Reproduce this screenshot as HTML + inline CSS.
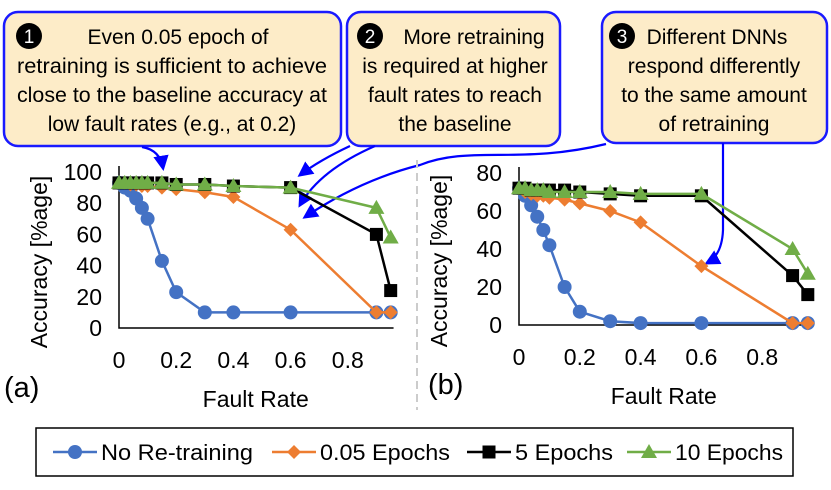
<!DOCTYPE html>
<html><head><meta charset="utf-8"><style>
body{margin:0;background:#fff;}
svg{display:block;font-family:"Liberation Sans",sans-serif;}
</style></head><body>
<svg id="c" width="831" height="490" viewBox="0 0 831 490" xmlns="http://www.w3.org/2000/svg">
<defs><marker id="ah" viewBox="0 0 10 10" refX="8" refY="5" markerWidth="7" markerHeight="7" orient="auto"><path d="M0,0L10,5L0,10z" fill="#0000ff"/></marker></defs>
<g id="callouts" font-size="21" fill="#000" text-anchor="middle">
<g>
<rect x="4" y="12" width="337" height="134" rx="14" fill="#fdecc8" stroke="#1a1aff" stroke-width="2.5"/>
<circle cx="29" cy="36" r="13" fill="#000"/><text x="29" y="43" fill="#fff" font-size="19">1</text>
<text x="178" y="44">Even 0.05 epoch of</text>
<text x="172" y="73" textLength="310" lengthAdjust="spacingAndGlyphs">retraining is sufficient to achieve</text>
<text x="172" y="102" textLength="310" lengthAdjust="spacingAndGlyphs">close to the baseline accuracy at</text>
<text x="172" y="131">low fault rates (e.g., at 0.2)</text></g>
<g>
<rect x="347" y="12" width="213" height="134" rx="14" fill="#fdecc8" stroke="#1a1aff" stroke-width="2.5"/>
<circle cx="370" cy="36" r="13" fill="#000"/><text x="370" y="43" fill="#fff" font-size="19">2</text>
<text x="474" y="44">More retraining</text>
<text x="455" y="73">is required at higher</text>
<text x="455" y="102">fault rates to reach</text>
<text x="455" y="131">the baseline</text></g>
<g>
<rect x="602" y="12" width="225" height="131" rx="14" fill="#fdecc8" stroke="#1a1aff" stroke-width="2.5"/>
<circle cx="622" cy="36" r="13" fill="#000"/><text x="622" y="43" fill="#fff" font-size="19">3</text>
<text x="717" y="44">Different DNNs</text>
<text x="714" y="73">respond differently</text>
<text x="714" y="102">to the same amount</text>
<text x="714" y="131">of retraining</text></g>
</g>
<g fill="none" stroke="#0000ff" stroke-width="2.2">
<path d="M142,147 Q160,150 163,168" marker-end="url(#ah)"/>
<path d="M350,146 Q320,160 300,175" marker-end="url(#ah)"/>
<path d="M375,146 Q320,170 300,205" marker-end="url(#ah)"/>
<path d="M606,144 C520,165 470,145 420,165 Q360,180 305,217" marker-end="url(#ah)"/>
<path d="M723,143 L723,230 Q722,255 707,263" marker-end="url(#ah)"/>
</g>
<line x1="417" y1="160" x2="417" y2="410" stroke="#ccc" stroke-width="2" stroke-dasharray="8,5"/>
<g id="plots"></g>
<g>
<rect x="36" y="428" width="757" height="48" fill="#fff" stroke="#000" stroke-width="1.5"/>
<g id="leg" font-size="22"></g>
</g>
</svg>
<script>
const xs=[0,0.02,0.04,0.06,0.08,0.1,0.15,0.2,0.3,0.4,0.6,0.9,0.95];
const seriesNames=["No Re-training","0.05 Epochs","5 Epochs","10 Epochs"];
const colors=["#4472c4","#ed7d31","#000000","#70ad47"];
const aBlue=[93,90,88,83,77,70,43,23,10,10,10,10,10];
const aOrange=[93,93,92,92,91,91,90,89,87,84,63,10,10];
const aBlack=[93,93,93,93,93,93,93,92,92,91,90,60,24];
const aGreen=[93,93,93,93,93,93,93,92,92,91,90,77,58];
const bBlue=[72,68,63,57,50,42,20,7,2,1,1,1,1];
const bOrange=[72,70,69,68,68,67,66,64,60,54,31,1,1];
const bBlack=[72,72,71,71,71,71,71,70,69,68,68,26,16];
const bGreen=[72,72,71,71,71,70,70,70,70,69,69,40,27];
const aYTicks=[0,20,40,60,80,100];
const bYTicks=[0,20,40,60,80];
const xTicks=[0,0.2,0.4,0.6,0.8];
const legendWidths=[152,130,98,108];
const NS="http://www.w3.org/2000/svg";
function mk(p,t,a){const e=document.createElementNS(NS,t);for(const k in a)e.setAttribute(k,a[k]);p.appendChild(e);return e;}
function marker(g,i,x,y){
 let e;
 if(i===0)e=mk(g,"circle",{cx:x,cy:y,r:7,fill:colors[0]});
 else if(i===1)e=mk(g,"path",{d:`M${x},${y-7}L${x+7},${y}L${x},${y+7}L${x-7},${y}z`,fill:colors[1]});
 else if(i===2)e=mk(g,"rect",{x:x-6.5,y:y-6.5,width:13,height:13,fill:"#000"});
 else e=mk(g,"path",{d:`M${x},${y-8}L${x+8},${y+6}L${x-8},${y+6}z`,fill:colors[3]});
 return e;
}
function panel(name,x0,xPer,y0,yPer,yMax,yTicks,series,label,labX){
 const root=document.getElementById("plots");
 const g=mk(root,"g",{});
 
 
 const X=v=>x0+v*xPer, Y=v=>y0-v*yPer;
 const ax=mk(g,"path",{d:`M${x0},${Y(yMax)-6}L${x0},${y0}L${X(0.96)},${y0}`,stroke:"#000","stroke-width":1.5,fill:"none"});
 
 
 yTicks.forEach(t=>{const e=mk(g,"text",{x:x0-17,y:Y(t)+8,"text-anchor":"end","font-size":23});e.textContent=t;
  
  });
 xTicks.forEach(t=>{const e=mk(g,"text",{x:X(t),y:y0+40,"text-anchor":"middle","font-size":23});e.textContent=t;
  
  });
 const yt=mk(g,"text",{transform:`translate(${x0-72},${(y0+Y(yMax))/2+12}) rotate(-90)`,"text-anchor":"middle","font-size":23});
 yt.textContent="Accuracy [%age]";
 
 
 const xt=mk(g,"text",{x:X(0.45)+8,y:y0+79,"text-anchor":"middle","font-size":23});
 xt.textContent="Fault Rate";
 
 
 const pl=mk(g,"text",{x:labX,y:y0+69,"font-size":29});
 pl.textContent=label;
 
 
 series.forEach((vals,i)=>{
  const sg=mk(g,"g",{});
  
  
  const ln=mk(sg,"polyline",{points:vals.map((v,j)=>X(xs[j])+","+Y(v)).join(" "),fill:"none",stroke:colors[i],"stroke-width":2.5});
  
  
  vals.forEach((v,j)=>{const m=marker(sg,i,X(xs[j]),Y(v));
   
   });
 });
}
panel("panel-a",119,286,328,1.56,100,aYTicks,[aBlue,aOrange,aBlack,aGreen],"(a)",4);
panel("panel-b",519,304,325,1.9,80,bYTicks,[bBlue,bOrange,bBlack,bGreen],"(b)",428);
const leg=document.getElementById("leg");
const lx=[53,272,467,627];
seriesNames.forEach((n,i)=>{
 const g=mk(leg,"g",{});
 
 
 mk(g,"line",{x1:lx[i],y1:452,x2:lx[i]+44,y2:452,stroke:colors[i],"stroke-width":2.5});
 marker(g,i,lx[i]+22,452);
 const t=mk(g,"text",{x:lx[i]+48,y:460,textLength:legendWidths[i],lengthAdjust:"spacingAndGlyphs"});t.textContent=n;
});
</script>
</body></html>
